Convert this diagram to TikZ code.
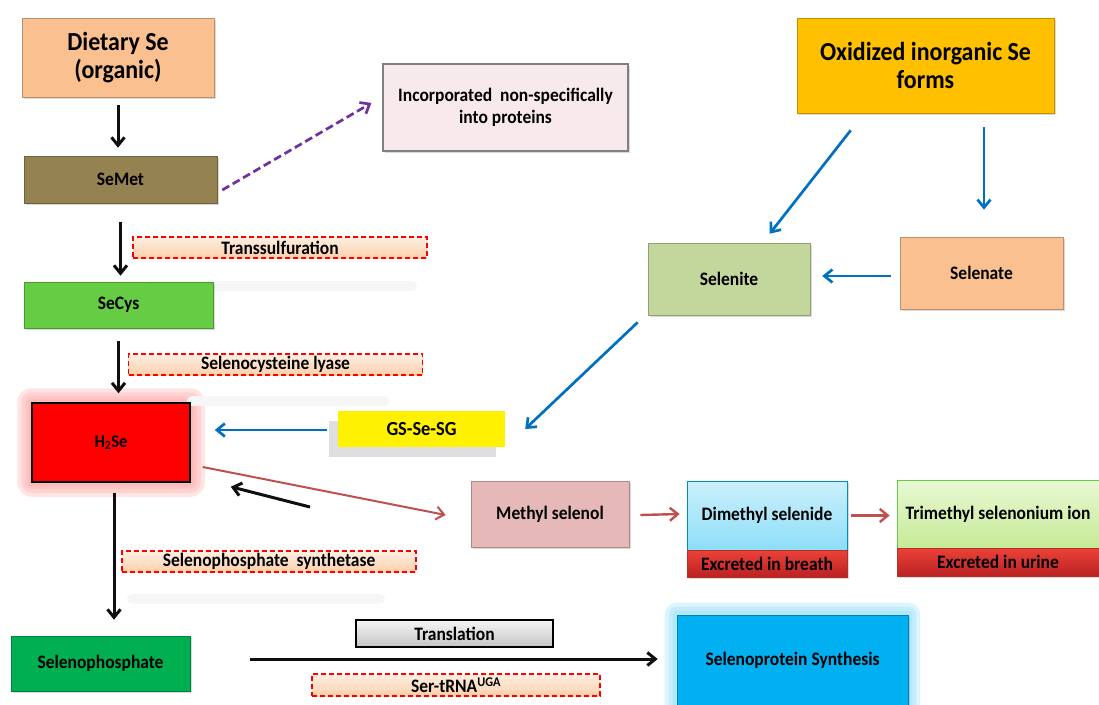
\documentclass[tikz,border=0pt]{standalone}
\usepackage{fontspec}
\setmainfont{Carlito}[FakeStretch=0.92]
\usetikzlibrary{arrows.meta, positioning, calc, shadows, backgrounds}
\definecolor{sePeach}{RGB}{250,192,143}
\definecolor{seOlive}{RGB}{148,130,80}
\definecolor{seLeaf}{RGB}{102,204,68}
\definecolor{seSage}{RGB}{195,214,155}
\definecolor{seGold}{RGB}{255,192,0}
\definecolor{seBlush}{RGB}{248,234,236}
\definecolor{seRose}{RGB}{230,184,183}
\definecolor{seIce}{RGB}{205,240,252}
\definecolor{seIceDeep}{RGB}{140,222,248}
\definecolor{seLime}{RGB}{232,248,212}
\definecolor{seLimeDeep}{RGB}{198,234,150}
\definecolor{seBrick}{RGB}{236,66,56}
\definecolor{seBrickDeep}{RGB}{186,34,34}
\definecolor{seGreen}{RGB}{0,176,80}
\definecolor{seSky}{RGB}{0,176,240}
\definecolor{seArrowBlue}{RGB}{0,112,192}
\definecolor{seArrowRed}{RGB}{192,80,77}
\definecolor{sePurple}{RGB}{112,48,160}
\definecolor{seInk}{RGB}{15,15,15}

\begin{document}
\begin{tikzpicture}[x=1pt, y=-1pt,
      chem/.style={draw=#1!75!black, fill=#1, line width=0.6pt, align=center, text=black,
      font=\bfseries\fontsize{19}{22}\selectfont, inner sep=2pt,
      drop shadow={shadow xshift=1.5pt, shadow yshift=-1.5pt, opacity=.3}},
      strip/.style={chem=seBrick, top color=seBrick, bottom color=seBrickDeep},
      enzyme/.style={draw=red, dashed, dash pattern=on 5pt off 3pt, line width=1.4pt, top color=sePeach!25, bottom color=sePeach!75,
      minimum width=294pt, minimum height=21pt, inner sep=0pt, font=\bfseries\fontsize{19}{22}\selectfont},
      flow/.style={-{Straight Barb[length=8pt,width=13pt]}, line width=3pt, draw=seInk},
      blueflow/.style={flow, draw=seArrowBlue, line width=2.7pt},
      redflow/.style={flow, draw=seArrowRed, line width=2.4pt},
      haze/.style={line cap=round, line width=10pt, draw=gray!7}
    ]
    \useasboundingbox (0,0) rectangle (1099,704);
    \clip (0,0) rectangle (1099,704);

    % faint shadows under the enzyme labels
    \draw[haze] (150,286) -- (412,286);
    \draw[haze] (192,401) -- (384,401);
    \draw[haze] (132,599) -- (380,599);

    % organic branch
    \node[chem=sePeach, minimum width=192pt, minimum height=79pt,
      font=\bfseries\fontsize{26}{28}\selectfont] (dietary) at (118,57.5) {Dietary Se\\(organic)};
    \node[chem=seOlive, minimum width=193pt, minimum height=47pt] (semet) at (120.5,179.5) {SeMet};
    \node[chem=seBlush, draw=gray, line width=1.2pt, minimum width=245pt, minimum height=87pt,
      font=\bfseries\fontsize{19}{22}\selectfont] (incorp) at (505.5,107.5) {Incorporated~ non-specifically\\into proteins};
    \node[enzyme] (transs) at (280,247.5) {Transsulfuration};
    \node[chem=seLeaf, minimum width=189pt, minimum height=46pt] (secys) at (118.5,305) {SeCys};
    \node[enzyme] (lyase) at (275.5,364.5) {Selenocysteine lyase};
    \node[draw=black, fill=red, line width=1.5pt, minimum width=158pt, minimum height=79pt,
      font=\bfseries\fontsize{18}{21}\selectfont] (hse) at (111,442.5) {H\textsubscript{2}Se};
    \node[enzyme] (synth) at (269,561.5) {Selenophosphate~ synthetase};
    \node[chem=seGreen, minimum width=179pt, minimum height=55pt] (selphos) at (100.5,663.5) {Selenophosphate};

    % inorganic branch
    \node[chem=seGold, minimum width=257pt, minimum height=95pt,
      font=\bfseries\fontsize{26}{28}\selectfont] (oxid) at (925.5,65.5) {Oxidized inorganic Se\\forms};
    \node[chem=seSage, minimum width=162pt, minimum height=72pt] (selenite) at (729,279) {Selenite};
    \node[chem=sePeach, minimum width=163pt, minimum height=72pt] (selenate) at (981.5,273) {Selenate};
    \node[fill=yellow, minimum width=167pt, minimum height=36pt, font=\bfseries\fontsize{20}{22}\selectfont,
      drop shadow={shadow xshift=-9pt, shadow yshift=-10pt, opacity=.25}] (gssg) at (421.5,429) {GS-Se-SG};

    % methylation
    \node[chem=seRose, minimum width=158pt, minimum height=66pt] (methyl) at (550,514) {Methyl selenol};
    \node[chem=seIce, draw=seSky!80!black, top color=seIce, bottom color=seIceDeep,
      minimum width=160pt, minimum height=69pt] (dimethyl) at (767,515.5) {Dimethyl selenide};
    \node[strip, minimum width=160pt, minimum height=27pt] (breath) at (767,563.5) {Excreted in breath};
    \node[chem=seLime, draw=seLeaf, top color=seLime, bottom color=seLimeDeep,
      minimum width=202pt, minimum height=68pt] (trimethyl) at (998,514) {Trimethyl selenonium ion};
    \node[strip, minimum width=202pt, minimum height=28pt] (urine) at (998,562) {Excreted in urine};

    % synthesis
    \node[draw=black, line width=1.2pt, top color=gray!8, bottom color=gray!45, minimum width=197pt, minimum height=27pt,
      font=\bfseries\fontsize{19}{22}\selectfont] (transl) at (454.5,633.5) {Translation};
    \node[enzyme, minimum width=288pt, minimum height=22pt] (sertrna) at (456,685) {Ser-tRNA\textsuperscript{UGA}};
    \node[chem=seSky, minimum width=231pt, minimum height=90pt] (selprot) at (792.5,660) {Selenoprotein Synthesis};

    % glows
    \begin{scope}[on background layer]
      \foreach \g in {14,10,6,3}
        \fill[red!35, opacity=.3, rounded corners=\g pt] ([shift={(-\g pt,\g pt)}]hse.north west) rectangle ([shift={(\g pt,-\g pt)}]hse.south east);
      \foreach \g in {12,8,4}
        \fill[cyan!45, opacity=.3, rounded corners=\g pt] ([shift={(-\g pt,\g pt)}]selprot.north west) rectangle ([shift={(\g pt,-\g pt)}]selprot.south east);
    \end{scope}

    % arrows
    \draw[flow] ([yshift=-8pt]dietary.south) -- ([yshift=8pt]dietary.south |- semet.north);
    \draw[flow] ([yshift=-19pt]semet.south) -- ([yshift=6pt]semet.south |- secys.north);
    \draw[flow] ([yshift=-13pt]secys.south) -- ([yshift=9pt]secys.south |- hse.north);
    \draw[flow] ([xshift=3pt,yshift=-10pt]hse.south) -- ([xshift=3pt,yshift=16pt]hse.south |- selphos.north);
    \draw[flow, draw=sePurple, dashed, dash pattern=on 8pt off 4pt, line width=2.7pt]
      ([xshift=5pt,yshift=-10.5pt]semet.east) -- ([xshift=-11pt,yshift=4.5pt]incorp.west);

    \draw[blueflow] ([xshift=54pt,yshift=-17pt]oxid.south west) -- ([xshift=122pt,yshift=9pt]selenite.north west);
    \draw[blueflow] ([xshift=2.5pt,yshift=-14pt]oxid.south -| selenate) -- ([xshift=2.5pt,yshift=27pt]selenate.north);
    \draw[blueflow] ([xshift=-9pt,yshift=-3pt]selenate.west) -- ([xshift=12pt,yshift=3pt]selenite.east);
    \draw[blueflow] ([xshift=-10pt,yshift=-7pt]selenite.south west) -- ([xshift=20pt]gssg.east);
    \draw[blueflow] ([xshift=-11pt,yshift=-1pt]gssg.west) -- ([xshift=24pt,yshift=12.5pt]hse.east);

    \draw[redflow, line width=2pt] ([xshift=12pt,yshift=-24.5pt]hse.east) -- ([xshift=-25pt,yshift=-1pt]methyl.west);
    \coordinate (back) at (310,507);
    \draw[flow] (back) -- ([xshift=40pt,yshift=-4pt]hse.south east);
    \draw[redflow] ([xshift=11pt,yshift=-1pt]methyl.east) -- ([xshift=-7pt]methyl.east -| dimethyl.west);
    \draw[redflow] ([xshift=4pt]dimethyl.east) -- ([xshift=-7pt]dimethyl.east -| trimethyl.west);
    \draw[flow] ([xshift=60pt,yshift=4.5pt]selphos.east) -- ([xshift=-19pt,yshift=4.5pt]selphos.east -| selprot.west);
  \end{tikzpicture}
\end{document}
